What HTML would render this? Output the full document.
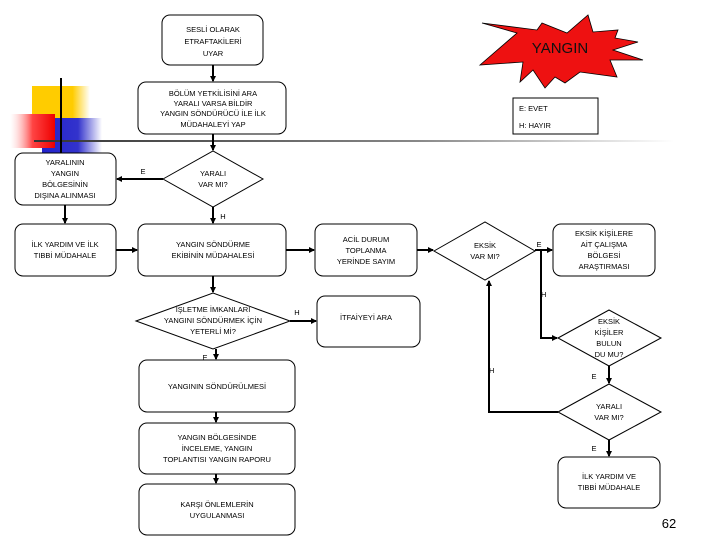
<!DOCTYPE html>
<html><head><meta charset="utf-8"><style>
html,body{margin:0;padding:0;background:#fff;}
svg{display:block}
text{font-family:"Liberation Sans",sans-serif;font-size:7.5px;fill:#000;text-anchor:middle;}
</style></head><body>
<svg width="720" height="540" viewBox="0 0 720 540" xmlns="http://www.w3.org/2000/svg">
<defs>
<linearGradient id="gr" x1="0" x2="1"><stop offset="0" stop-color="#fff" stop-opacity="0.3"/><stop offset="0.5" stop-color="#f44"/><stop offset="1" stop-color="#e00"/></linearGradient>
<linearGradient id="gb" x1="0" x2="1"><stop offset="0" stop-color="#2222cc"/><stop offset="0.6" stop-color="#3333cc"/><stop offset="1" stop-color="#fff"/></linearGradient>
<linearGradient id="gl" x1="0" x2="1"><stop offset="0" stop-color="#333"/><stop offset="0.6" stop-color="#888"/><stop offset="1" stop-color="#fff"/></linearGradient>
<linearGradient id="gy" x1="0" x2="1"><stop offset="0" stop-color="#ffcc00"/><stop offset="0.7" stop-color="#ffcc00"/><stop offset="1" stop-color="#fff"/></linearGradient>
<marker id="a" markerWidth="6" markerHeight="6" refX="5" refY="3" orient="auto" markerUnits="userSpaceOnUse"><path d="M0,0 L6,3 L0,6 z" fill="#000"/></marker>
</defs>
<!-- decoration -->
<rect x="32" y="86" width="58" height="50" fill="url(#gy)"/>
<rect x="42" y="118" width="60" height="40" fill="url(#gb)"/>
<rect x="10" y="114" width="45" height="34" fill="url(#gr)"/>
<rect x="34" y="140" width="640" height="2" fill="url(#gl)"/>
<rect x="60" y="78" width="2" height="88" fill="#000"/>
<!-- star -->
<polygon points="482,23 517,33 480,65 523,62 520,82 533,70 545,88 555,77 565,83 580,72 617,77 610,60 643,60 613,50 638,42 615,38 618,30 593,32 588,15 567,33 542,23 537,30" fill="#ee1111" stroke="#000" stroke-width="0.8"/>
<text x="560" y="53" style="font-size:15px;fill:#111">YANGIN</text>
<!-- legend -->
<rect x="513" y="98" width="85" height="36" fill="#fff" stroke="#000"/>
<text x="519" y="111" style="text-anchor:start">E: EVET</text>
<text x="519" y="128" style="text-anchor:start">H: HAYIR</text>
<g fill="#fff" stroke="#000" stroke-width="1">
<rect x="162" y="15" width="101" height="50" rx="8"/>
<rect x="138" y="82" width="148" height="52" rx="8"/>
<rect x="15" y="153" width="101" height="52" rx="8"/>
<rect x="15" y="224" width="101" height="52" rx="8"/>
<rect x="138" y="224" width="148" height="52" rx="8"/>
<rect x="315" y="224" width="102" height="52" rx="8"/>
<rect x="553" y="224" width="102" height="52" rx="8"/>
<rect x="317" y="296" width="103" height="51" rx="8"/>
<rect x="139" y="360" width="156" height="52" rx="8"/>
<rect x="139" y="423" width="156" height="51" rx="8"/>
<rect x="139" y="484" width="156" height="51" rx="8"/>
<rect x="558" y="457" width="102" height="51" rx="8"/>
<polygon points="163,179 213,151 263,179 213,207"/>
<polygon points="434,251 485,222 535,251 485,280"/>
<polygon points="136,321 213,293 290,321 213,349"/>
<polygon points="558,338 609,310 661,338 609,366"/>
<polygon points="558,412 609,384 661,412 609,440"/>
</g>
<g stroke="#000" stroke-width="2" fill="none">
<line x1="213" y1="65" x2="213" y2="81" marker-end="url(#a)"/>
<line x1="213" y1="134" x2="213" y2="150" marker-end="url(#a)"/>
<line x1="163" y1="179" x2="117" y2="179" marker-end="url(#a)"/>
<line x1="213" y1="207" x2="213" y2="223" marker-end="url(#a)"/>
<line x1="65" y1="205" x2="65" y2="223" marker-end="url(#a)"/>
<line x1="116" y1="250" x2="137" y2="250" marker-end="url(#a)"/>
<line x1="286" y1="250" x2="314" y2="250" marker-end="url(#a)"/>
<line x1="417" y1="250" x2="433" y2="250" marker-end="url(#a)"/>
<line x1="535" y1="250" x2="552" y2="250" marker-end="url(#a)"/>
<line x1="213" y1="276" x2="213" y2="292" marker-end="url(#a)"/>
<line x1="290" y1="321" x2="316" y2="321" marker-end="url(#a)"/>
<line x1="216" y1="349" x2="216" y2="359" marker-end="url(#a)"/>
<line x1="216" y1="412" x2="216" y2="422" marker-end="url(#a)"/>
<line x1="216" y1="474" x2="216" y2="483" marker-end="url(#a)"/>
<polyline points="541,250 541,338 557,338" marker-end="url(#a)"/>
<line x1="609" y1="366" x2="609" y2="383" marker-end="url(#a)"/>
<line x1="609" y1="440" x2="609" y2="456" marker-end="url(#a)"/>
<polyline points="558,412 489,412 489,281" marker-end="url(#a)"/>
</g>
<text x="213" y="32">SESLİ OLARAK</text><text x="213" y="44">ETRAFTAKİLERİ</text><text x="213" y="56">UYAR</text>
<text x="213" y="96">BÖLÜM YETKİLİSİNİ ARA</text><text x="213" y="106">YARALI VARSA BİLDİR</text><text x="213" y="116">YANGIN SÖNDÜRÜCÜ İLE İLK</text><text x="213" y="127">MÜDAHALEYİ YAP</text>
<text x="65" y="165">YARALININ</text><text x="65" y="176">YANGIN</text><text x="65" y="187">BÖLGESİNİN</text><text x="65" y="198">DIŞINA ALINMASI</text>
<text x="213" y="176">YARALI</text><text x="213" y="187">VAR MI?</text>
<text x="143" y="174">E</text><text x="223" y="219">H</text>
<text x="65" y="247">İLK YARDIM VE İLK</text><text x="65" y="258">TIBBİ MÜDAHALE</text>
<text x="213" y="247">YANGIN SÖNDÜRME</text><text x="213" y="258">EKİBİNİN MÜDAHALESİ</text>
<text x="366" y="242">ACİL DURUM</text><text x="366" y="253">TOPLANMA</text><text x="366" y="264">YERİNDE SAYIM</text>
<text x="485" y="248">EKSİK</text><text x="485" y="259">VAR MI?</text>
<text x="539" y="247">E</text>
<text x="604" y="236">EKSİK KİŞİLERE</text><text x="604" y="247">AİT ÇALIŞMA</text><text x="604" y="258">BÖLGESİ</text><text x="604" y="269">ARAŞTIRMASI</text>
<text x="541" y="297" style="text-anchor:start">H</text>
<text x="213" y="312">İŞLETME İMKANLARI</text><text x="213" y="323">YANGINI SÖNDÜRMEK İÇİN</text><text x="213" y="334">YETERLİ Mİ?</text>
<text x="297" y="315">H</text>
<text x="366" y="320">İTFAİYEYİ ARA</text>
<text x="205" y="360">E</text>
<text x="609" y="324">EKSİK</text><text x="609" y="335">KİŞİLER</text><text x="609" y="346">BULUN</text><text x="609" y="357">DU MU?</text>
<text x="489" y="373" style="text-anchor:start">H</text>
<text x="594" y="379">E</text>
<text x="217" y="389">YANGININ SÖNDÜRÜLMESİ</text>
<text x="609" y="409">YARALI</text><text x="609" y="420">VAR MI?</text>
<text x="594" y="451">E</text>
<text x="217" y="440">YANGIN BÖLGESİNDE</text><text x="217" y="451">İNCELEME, YANGIN</text><text x="217" y="462">TOPLANTISI YANGIN RAPORU</text>
<text x="609" y="479">İLK YARDIM VE</text><text x="609" y="490">TIBBİ MÜDAHALE</text>
<text x="217" y="507">KARŞI ÖNLEMLERİN</text><text x="217" y="518">UYGULANMASI</text>
<text x="669" y="528" style="font-size:13px">62</text>
</svg>
</body></html>
